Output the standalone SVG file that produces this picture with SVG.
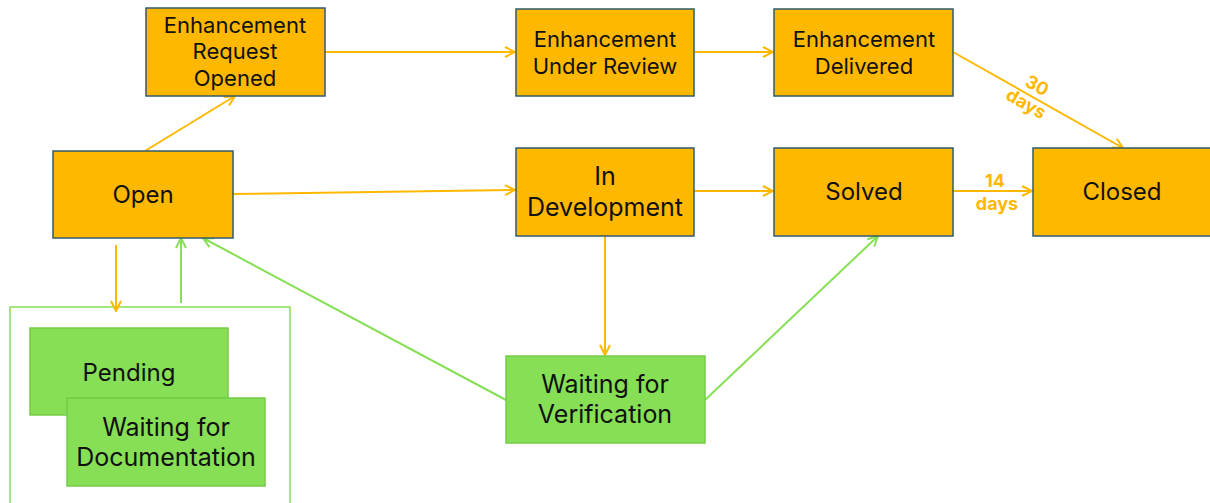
<svg xmlns="http://www.w3.org/2000/svg" width="1210" height="503" viewBox="0 0 1210 503">
  <defs>
    <marker id="arrO" viewBox="0 0 12 12" refX="11" refY="6" markerWidth="12" markerHeight="12" markerUnits="userSpaceOnUse" orient="auto">
      <path d="M1,1 L11,6 L1,11" fill="none" stroke="#FFB800" stroke-width="2"/>
    </marker>
    <marker id="arrG" viewBox="0 0 12 12" refX="11" refY="6" markerWidth="12" markerHeight="12" markerUnits="userSpaceOnUse" orient="auto">
      <path d="M1,1 L11,6 L1,11" fill="none" stroke="#86DF55" stroke-width="2"/>
    </marker>
    <style>
      .o{fill:#FFB800;stroke:#2F5B6B;stroke-width:1.5}
      .g{fill:#86DF55;stroke:#74CC47;stroke-width:1.5}
      .t{font-family:Inter,"Liberation Sans",sans-serif;fill:#111;text-anchor:middle}
      .lo{fill:none;stroke:#FFB800;stroke-width:2;marker-end:url(#arrO)}
      .lg{fill:none;stroke:#86DF55;stroke-width:2;marker-end:url(#arrG)}
      .lbl{font-family:Inter,"Liberation Sans",sans-serif;font-weight:bold;fill:#FFB800;text-anchor:middle;font-size:18px}
    </style>
  </defs>

  <!-- group frame for the pending states -->
  <rect id="pending-frame" x="10" y="307" width="280" height="210" fill="none" stroke="#86DF55" stroke-width="1.5"/>

  <g id="connectors">
    <path class="lo" d="M145,151 L235,96"/>
    <path class="lo" d="M325,52 L515,52"/>
    <path class="lo" d="M694,52 L773,52"/>
    <path class="lo" d="M953,52 L1123,148"/>
    <path class="lo" d="M233,194 L515,190"/>
    <path class="lo" d="M694,191 L773,191"/>
    <path class="lo" d="M953,191 L1032,191"/>
    <path class="lo" d="M605,236 L605,355"/>
    <path class="lo" d="M116,245 L116,311"/>
    <path class="lg" d="M181,303 L181,238"/>
    <path class="lg" d="M506,400 L203,238"/>
    <path class="lg" d="M705,400 L878,236"/>
    <text class="lbl" transform="translate(1034,91) rotate(29.5)">30</text>
    <text class="lbl" transform="translate(1023,109) rotate(29.5)">days</text>
    <text class="lbl" x="995" y="187">14</text>
    <text class="lbl" x="997" y="210">days</text>
  </g>

  <g id="enh-request">
    <rect class="o" x="146" y="8" width="179" height="88"/>
    <text class="t" font-size="22" x="235" y="33">Enhancement</text>
    <text class="t" font-size="22" x="235" y="59">Request</text>
    <text class="t" font-size="22" x="235" y="86">Opened</text>
  </g>
  <g id="enh-review">
    <rect class="o" x="516" y="9" width="178" height="87"/>
    <text class="t" font-size="22" x="605" y="47">Enhancement</text>
    <text class="t" font-size="22" x="605" y="74">Under Review</text>
  </g>
  <g id="enh-delivered">
    <rect class="o" x="774" y="9" width="179" height="87"/>
    <text class="t" font-size="22" x="864" y="47">Enhancement</text>
    <text class="t" font-size="22" x="864" y="74">Delivered</text>
  </g>
  <g id="open">
    <rect class="o" x="53" y="151" width="180" height="87"/>
    <text class="t" font-size="24" x="143" y="203">Open</text>
  </g>
  <g id="in-development">
    <rect class="o" x="516" y="148" width="178" height="88"/>
    <text class="t" font-size="25" x="605" y="185">In</text>
    <text class="t" font-size="25" x="605" y="216">Development</text>
  </g>
  <g id="solved">
    <rect class="o" x="774" y="148" width="179" height="88"/>
    <text class="t" font-size="24" x="864" y="200">Solved</text>
  </g>
  <g id="closed">
    <rect class="o" x="1033" y="148" width="190" height="88"/>
    <text class="t" font-size="24" x="1122" y="200">Closed</text>
  </g>
  <g id="pending">
    <rect class="g" x="30" y="328" width="198" height="87"/>
    <text class="t" font-size="24" x="129" y="381">Pending</text>
  </g>
  <g id="waiting-documentation">
    <rect class="g" x="67" y="398" width="198" height="88"/>
    <text class="t" font-size="25" x="166" y="436">Waiting for</text>
    <text class="t" font-size="25" x="166" y="466">Documentation</text>
  </g>
  <g id="waiting-verification">
    <rect class="g" x="506" y="356" width="199" height="87"/>
    <text class="t" font-size="25" x="605" y="393">Waiting for</text>
    <text class="t" font-size="25" x="605" y="423">Verification</text>
  </g>
</svg>
